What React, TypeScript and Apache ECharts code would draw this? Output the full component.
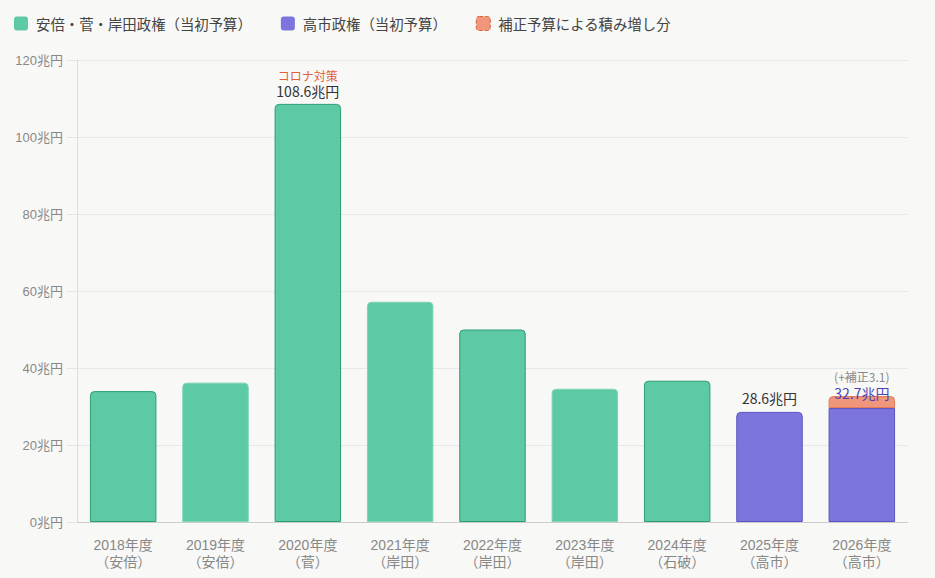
import React, { useEffect, useRef } from "react";
import * as echarts from "echarts";

const categories = [
  "2018年度\n（安倍）",
  "2019年度\n（安倍）",
  "2020年度\n（菅）",
  "2021年度\n（岸田）",
  "2022年度\n（岸田）",
  "2023年度\n（岸田）",
  "2024年度\n（石破）",
  "2025年度\n（高市）",
  "2026年度\n（高市）",
];
const seriesNames = ["安倍・菅・岸田政権（当初予算）", "高市政権（当初予算）", "補正予算による積み増し分"];
const prevValues: (number | null)[] = [34.0, 36.2, 108.6, 57.2, 50.0, 34.6, 36.7, null, null];
const takaichiValues: (number | null)[] = [null, null, null, null, null, null, null, 28.6, 29.6];
const supplementValues: (number | null)[] = [null, null, null, null, null, null, null, null, 3.1];
const yTicks = [0, 20, 40, 60, 80, 100, 120];

const FONT = "'Noto Sans CJK JP', 'Noto Sans', sans-serif";
const AXFONT = "'Liberation Sans', 'Noto Sans CJK JP', sans-serif";
const ICON = "path://M3 0H11Q14 0 14 3V11Q14 14 11 14H3Q0 14 0 11V3Q0 0 3 0Z";

export default function App() {
  const ref = useRef<HTMLDivElement>(null);
  useEffect(() => {
    document.body.style.margin = "0";
    document.body.style.background = "#f8f8f6";
    const chart = echarts.init(ref.current!, undefined, { renderer: "svg" });
    const green = "#5dc9a5";
    const greenDark = "#2a9e74";
    const greenLight = "#7fd4b6";
    const purple = "#7b75dd";
    const orange = "#f0967a";
    chart.setOption({
      animation: false,
      backgroundColor: "#f8f8f6",
      textStyle: { fontFamily: FONT },
      legend: {
        left: 9,
        top: 11,
        itemWidth: 14,
        itemHeight: 14,
        itemGap: 29,
        icon: ICON,
        textStyle: { fontSize: 14.4, color: "#444", fontFamily: FONT, padding: [0, 0, 0, 3] },
        data: [
          { name: seriesNames[0], itemStyle: { color: green, borderWidth: 0 } },
          { name: seriesNames[1], itemStyle: { color: purple, borderWidth: 0 } },
          {
            name: seriesNames[2],
            itemStyle: { color: orange, borderColor: "#d9623d", borderWidth: 1, borderType: "dashed" },
          },
        ],
      },
      grid: { left: 77, right: 27, top: 60, bottom: 56, containLabel: false },
      xAxis: {
        type: "category",
        data: categories,
        axisLine: { lineStyle: { color: "#cccccc" } },
        axisTick: { show: false },
        axisLabel: { color: "#888", fontSize: 14, lineHeight: 17, margin: 14, fontFamily: AXFONT },
      },
      yAxis: {
        type: "value",
        min: yTicks[0],
        max: yTicks[yTicks.length - 1],
        interval: 20,
        axisLine: { show: true, lineStyle: { color: "#dddddd" } },
        axisTick: { show: true, length: 10, lineStyle: { color: "#e4e4e4" } },
        splitLine: { lineStyle: { color: "#e8e8e8" } },
        axisLabel: {
          color: "#888",
          fontSize: 13,
          margin: 14,
          fontFamily: AXFONT,
          formatter: (v: number) => `${v}兆円`,
        },
      },
      series: [
        {
          name: seriesNames[0],
          type: "bar",
          stack: "total",
          barWidth: "72%",
          itemStyle: { color: green, borderColor: greenDark, borderWidth: 1, borderRadius: [4, 4, 0, 0] },
          data: prevValues.map((v, i) => {
            if (v === null) return "-";
            const item: any = {
              value: v,
              itemStyle: { borderColor: i % 2 === 0 ? greenDark : greenLight },
            };
            if (i === 2) {
              item.label = {
                show: true,
                position: "top",
                distance: 5,
                formatter: "{a|コロナ対策}\n{b|108.6兆円}",
                rich: {
                  a: { color: "#e0603a", fontSize: 12, lineHeight: 15, align: "center", fontFamily: FONT },
                  b: { color: "#333", fontSize: 14, lineHeight: 16, align: "center", fontFamily: FONT },
                },
              };
            }
            return item;
          }),
        },
        {
          name: seriesNames[1],
          type: "bar",
          stack: "total",
          itemStyle: { color: purple, borderColor: "#5b53c4", borderWidth: 1 },
          data: takaichiValues.map((v, i) => {
            if (v === null) return "-";
            if (i === 7) {
              return {
                value: v,
                itemStyle: { borderRadius: [4, 4, 0, 0] },
                label: {
                  show: true,
                  position: "top",
                  distance: 7,
                  formatter: "28.6兆円",
                  color: "#333",
                  fontSize: 14,
                  fontFamily: FONT,
                },
              };
            }
            return { value: v, itemStyle: { borderRadius: 0 } };
          }),
        },
        {
          name: seriesNames[2],
          type: "bar",
          stack: "total",
          itemStyle: {
            color: orange,
            borderColor: "#e07a58",
            borderWidth: 1,
            borderRadius: [4, 4, 0, 0],
          },
          label: {
            show: true,
            position: "top",
            distance: -5,
            formatter: "{a|(+補正3.1)}\n{b|32.7兆円}",
            rich: {
              a: { color: "#888", fontSize: 12, lineHeight: 15, align: "center", fontFamily: FONT },
              b: { color: "#4b44b8", fontSize: 14, lineHeight: 17, align: "center", fontFamily: FONT },
            },
          },
          data: supplementValues.map((v) => (v === null ? "-" : v)),
        },
      ],
    });
    return () => chart.dispose();
  }, []);
  return <div ref={ref} style={{ width: 935, height: 578 }} />;
}
